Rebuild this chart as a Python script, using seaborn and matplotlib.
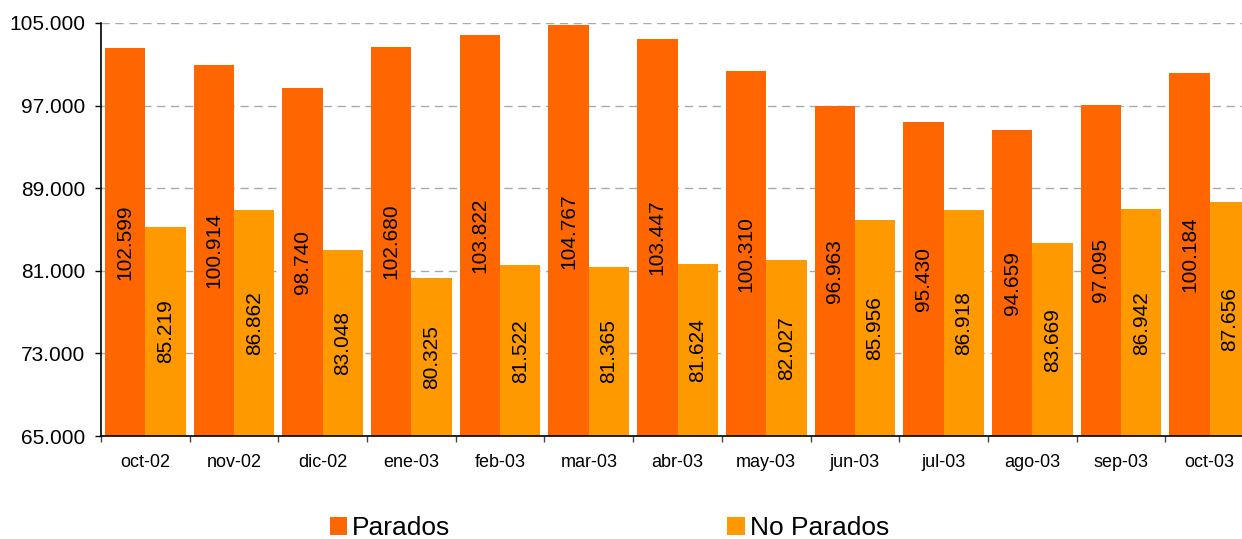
import numpy as np
import pandas as pd
import seaborn as sns
import matplotlib.pyplot as plt
from matplotlib.ticker import FixedLocator, FuncFormatter

# data (values in persons; shown with '.' as thousands separator)
months = ['oct-02', 'nov-02', 'dic-02', 'ene-03', 'feb-03', 'mar-03', 'abr-03',
          'may-03', 'jun-03', 'jul-03', 'ago-03', 'sep-03', 'oct-03']
parados = [102599, 100914, 98740, 102680, 103822, 104767, 103447,
           100310, 96963, 95430, 94659, 97095, 100184]
no_parados = [85219, 86862, 83048, 80325, 81522, 81365, 81624,
              82027, 85956, 86918, 83669, 86942, 87656]

df = pd.DataFrame({
    'mes': months * 2,
    'valor': parados + no_parados,
    'serie': ['Parados'] * len(months) + ['No Parados'] * len(months),
})

sns.set_style('white')
plt.rcParams['font.family'] = ['Liberation Sans', 'DejaVu Sans']
plt.rcParams['text.color'] = 'black'
plt.rcParams['xtick.color'] = 'black'
plt.rcParams['ytick.color'] = 'black'

def miles(v, pos=None):
    return f'{v:,.0f}'.replace(',', '.')

fig = plt.figure(figsize=(12.42, 5.39), dpi=100)
ax = fig.add_axes([101 / 1242, 103 / 539, 1153 / 1242, 413 / 539])

sns.barplot(data=df, x='mes', y='valor', hue='serie', order=months,
            hue_order=['Parados', 'No Parados'],
            palette={'Parados': '#FF6600', 'No Parados': '#FF9900'},
            width=0.91, gap=0, saturation=1, dodge=True, ax=ax,
            linewidth=0, edgecolor='none', zorder=2)

ax.set_ylim(65000, 105000)
ax.set_xlim(-0.5, len(months) - 0.5)
ax.yaxis.set_major_locator(FixedLocator(np.arange(65000, 105001, 8000)))
ax.yaxis.set_major_formatter(FuncFormatter(miles))
ax.tick_params(axis='y', labelsize=15, length=4.3, width=1, direction='out', left=True, pad=7)
ax.yaxis.grid(True, color='#aaaaaa', linestyle=(0, (6, 4)), linewidth=1, zorder=0)
ax.set_axisbelow(True)

# ticks on category boundaries, labels in the middle
ax.set_xticks(np.arange(-0.5, len(months), 1))
ax.set_xticklabels([])
ax.set_xticks(np.arange(len(months)), minor=True)
ax.set_xticklabels(months, minor=True)
ax.tick_params(axis='x', which='major', length=4.3, width=1, bottom=True, color='#444444')
ax.tick_params(axis='x', which='minor', length=0, labelsize=13, pad=13)

for s in ['top', 'right']:
    ax.spines[s].set_visible(False)
for s in ['left', 'bottom']:
    ax.spines[s].set_color('black')
    ax.spines[s].set_linewidth(1.2)

ax.set_xlabel('')
ax.set_ylabel('')

for cont in ax.containers:
    ax.bar_label(cont, labels=[miles(v) for v in cont.datavalues],
                 label_type='center', rotation=90, fontsize=15, color='black')

handles, labels = ax.get_legend_handles_labels()
ax.get_legend().remove()
fig.legend(handles, labels, loc='center', bbox_to_anchor=(0.4907, 0.02), ncol=2,
           frameon=False, fontsize=19, handlelength=0.65, handleheight=0.65,
           handletextpad=0.2, columnspacing=10.5, borderpad=0)

fig.savefig('out.png', dpi=100)
